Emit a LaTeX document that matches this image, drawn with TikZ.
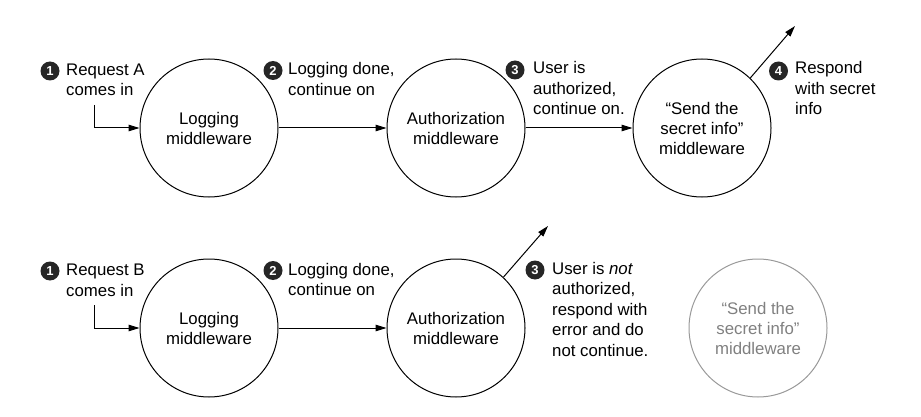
\documentclass[tikz,border=0pt]{standalone}
\usepackage{fontspec}
\setmainfont{Liberation Sans}
\usetikzlibrary{arrows.meta}
\begin{document}
\begin{tikzpicture}[x=1pt,y=-1pt,
  mw/.style={circle, draw, line width=1pt, minimum size=138pt, inner sep=0pt, align=center, font=\fontsize{16.8}{20}\selectfont},
  faded/.style={mw, draw=black!40, text=black!50},
  lbl/.style={anchor=base west, align=left, inner sep=0pt, font=\fontsize{16.8}{20.5}\selectfont},
  num/.style={circle, fill=black!85, text=white, inner sep=0pt, minimum size=19pt, font=\fontsize{13}{13}\selectfont\bfseries},
  conn/.style={line width=1pt, -{Triangle[length=11pt,width=6.5pt]}}
]
\useasboundingbox (0,0) rectangle (921,417);
% circles
\node[mw] (log1) at (209,128) {Logging\\middleware};
\node[mw] (auth1) at (456,128) {Authorization\\middleware};
\node[mw] (send1) at (702,128) {“Send the\\secret info”\\middleware};
\node[mw] (log2) at (209,328) {Logging\\middleware};
\node[mw] (auth2) at (456,328) {Authorization\\middleware};
\node[faded] (send2) at (758,328) {“Send the\\secret info”\\middleware};
% connectors
\coordinate (in1) at (94,105);
\coordinate (in2) at (94,305);
\coordinate (out1) at (795,26);
\coordinate (out2) at (548,226);
\draw[conn] (in1) |- (log1.west);
\draw[conn] (log1.east) -- (auth1.west);
\draw[conn] (auth1.east) -- (send1.west);
\draw[conn] (send1.46) -- (out1);
\draw[conn] (in2) |- (log2.west);
\draw[conn] (log2.east) -- (auth2.west);
\draw[conn] (auth2.47) -- (out2);
% labels top
\node[num] (n1a) at (50,71) {1};
\node[lbl] (t1a) at (66,96) {Request A\\comes in};
\node[num] (n2a) at (273,70.5) {2};
\node[lbl] (t2a) at (288,95.5) {Logging done,\\continue on};
\node[num] (n3a) at (515,70) {3};
\node[lbl] (t3a) at (533,115) {User is\\authorized,\\continue on.};
\node[num] (n4a) at (778.5,71) {4};
\node[lbl] (t4a) at (795,115) {Respond\\with secret\\info};
% labels bottom
\node[num] (n1b) at (50,271) {1};
\node[lbl] (t1b) at (66,296) {Request B\\comes in};
\node[num] (n2b) at (273,270.5) {2};
\node[lbl] (t2b) at (288,295.5) {Logging done,\\continue on};
\node[num] (n3b) at (535,270) {3};
\node[lbl] (t3b) at (552,356) {User is \textit{not}\\authorized,\\respond with\\error and do\\not continue.};
\end{tikzpicture}
\end{document}
